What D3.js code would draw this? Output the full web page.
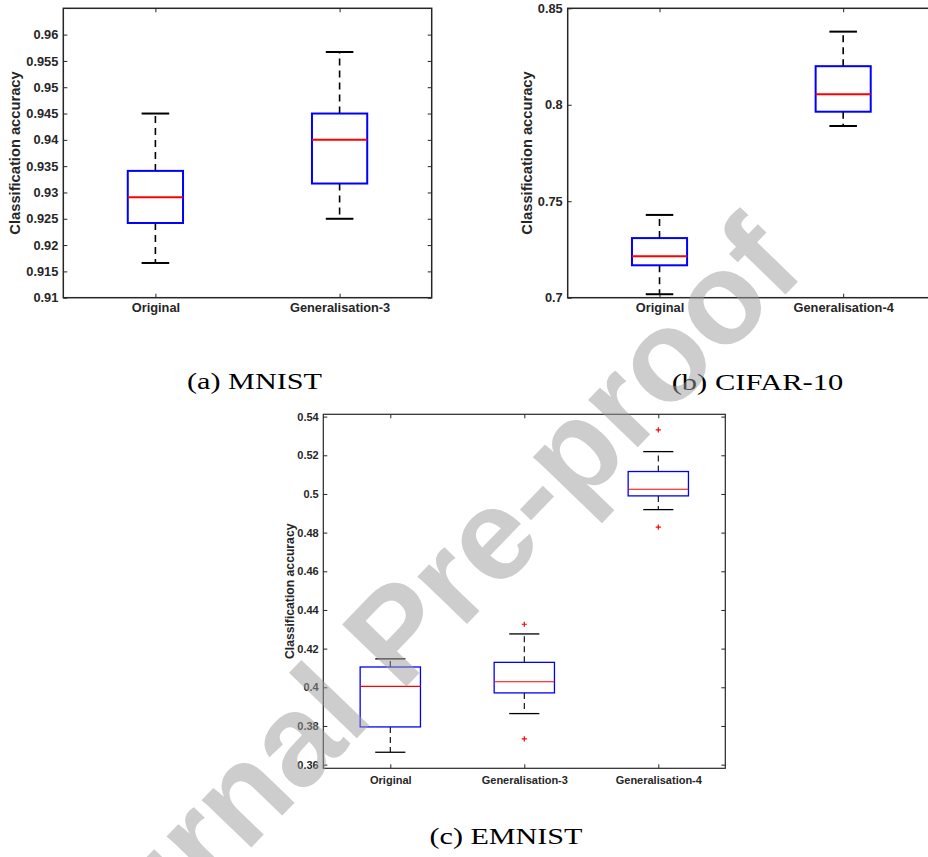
<!DOCTYPE html>
<html>
<head>
<meta charset="utf-8">
<script src="https://cdn.jsdelivr.net/npm/d3@7"></script>
<style>
  body { margin: 0; background: #fff; }
  svg { display: block; }
</style>
</head>
<body>
<svg id="fig" width="928" height="857"></svg>
<script>
// ---- (a) MNIST ----
const mnistCategories = ["Original", "Generalisation-3"];
const mnistLowerWhisker = [0.9166, 0.9250];
const mnistQ1 = [0.9242, 0.9317];
const mnistMedian = [0.9291, 0.9400];
const mnistQ3 = [0.9341, 0.9450];
const mnistUpperWhisker = [0.9450, 0.9567];
const mnistOutliers = [[], []];
const mnistTicks = [0.91, 0.915, 0.92, 0.925, 0.93, 0.935, 0.94, 0.945, 0.95, 0.955, 0.96];

// ---- (b) CIFAR-10 ----
const cifarCategories = ["Original", "Generalisation-4"];
const cifarLowerWhisker = [0.7018, 0.7890];
const cifarQ1 = [0.7168, 0.7964];
const cifarMedian = [0.7215, 0.8054];
const cifarQ3 = [0.7309, 0.8200];
const cifarUpperWhisker = [0.7429, 0.8379];
const cifarOutliers = [[], []];
const cifarTicks = [0.7, 0.75, 0.8, 0.85];

// ---- (c) EMNIST ----
const emnistCategories = ["Original", "Generalisation-3", "Generalisation-4"];
const emnistLowerWhisker = [0.3664, 0.3864, 0.4919];
const emnistQ1 = [0.3795, 0.3971, 0.4990];
const emnistMedian = [0.4005, 0.4029, 0.5024];
const emnistQ3 = [0.4105, 0.4129, 0.5116];
const emnistUpperWhisker = [0.4147, 0.4276, 0.5219];
const emnistOutliers = [[], [0.4326, 0.3733], [0.5331, 0.4828]];
const emnistTicks = [0.36, 0.38, 0.4, 0.42, 0.44, 0.46, 0.48, 0.5, 0.52, 0.54];

const yTitle = "Classification accuracy";
const captions = ["(a) MNIST", "(b) CIFAR-10", "(c) EMNIST"];
const watermark = "Journal Pre-proof";

const SANS = "'Liberation Sans', Arial, Helvetica, sans-serif";
const SERIF = "'Liberation Serif', 'Times New Roman', serif";
const AXIS_COLOR = "#262626";
const fmt = d3.format(".3~f");

const svg = d3.select("#fig");
svg.append("rect").attr("width", 928).attr("height", 857).attr("fill", "#fff");

function styleAxis(sel, fontSize) {
  sel.select(".domain").remove();
  sel.attr("font-family", SANS).attr("font-size", fontSize).attr("font-weight", "bold");
  sel.selectAll(".tick line").attr("stroke", AXIS_COLOR).attr("stroke-width", 1);
  sel.selectAll(".tick text").attr("fill", AXIS_COLOR);
}

function drawPanel(p) {
  const x = d3.scalePoint().domain(p.categories).range([p.left, p.right]).padding(0.5);
  const y = d3.scaleLinear().domain(p.domain).range([p.bottom, p.top]);
  const step = x.step();
  const boxW = p.boxFrac * step;
  const capW = boxW / 2;
  const g = svg.append("g");

  // inward ticks on all four sides
  g.append("g").attr("transform", `translate(${p.left},0)`)
    .call(d3.axisLeft(y).tickValues(p.ticks).tickFormat(fmt)
      .tickSizeInner(-4).tickSizeOuter(0).tickPadding(p.yPad))
    .call(s => styleAxis(s, p.tickFont));
  g.append("g").attr("transform", `translate(${p.right},0)`)
    .call(d3.axisRight(y).tickValues(p.ticks).tickFormat("")
      .tickSizeInner(-4).tickSizeOuter(0))
    .call(s => styleAxis(s, p.tickFont));
  g.append("g").attr("transform", `translate(0,${p.bottom})`)
    .call(d3.axisBottom(x).tickSizeInner(-4).tickSizeOuter(0).tickPadding(p.xPad))
    .call(s => styleAxis(s, p.tickFont));
  g.append("g").attr("transform", `translate(0,${p.top})`)
    .call(d3.axisTop(x).tickFormat("").tickSizeInner(-4).tickSizeOuter(0))
    .call(s => styleAxis(s, p.tickFont));

  // axes frame
  g.append("rect")
    .attr("x", p.left).attr("y", p.top)
    .attr("width", p.right - p.left).attr("height", p.bottom - p.top)
    .attr("fill", "none").attr("stroke", AXIS_COLOR).attr("stroke-width", p.frameW);

  // y title
  g.append("text")
    .attr("transform", `translate(${p.titleX},${(p.top + p.bottom) / 2}) rotate(-90)`)
    .attr("text-anchor", "middle")
    .attr("font-family", SANS).attr("font-weight", "bold")
    .attr("font-size", p.titleFont).attr("fill", AXIS_COLOR)
    .text(yTitle);

  const boxes = g.append("g");
  p.categories.forEach((c, i) => {
    const cx = x(c);
    // dashed whiskers
    [[p.q3[i], p.upper[i]], [p.q1[i], p.lower[i]]].forEach(([a, b]) => {
      boxes.append("line")
        .attr("x1", cx).attr("x2", cx).attr("y1", y(a)).attr("y2", y(b))
        .attr("stroke", "#000").attr("stroke-width", p.whiskerW)
        .attr("stroke-dasharray", p.dash);
    });
    // whisker caps
    [p.upper[i], p.lower[i]].forEach(v => {
      boxes.append("line")
        .attr("x1", cx - capW / 2).attr("x2", cx + capW / 2)
        .attr("y1", y(v)).attr("y2", y(v))
        .attr("stroke", "#000").attr("stroke-width", p.capW);
    });
    // box
    boxes.append("rect")
      .attr("x", cx - boxW / 2).attr("y", y(p.q3[i]))
      .attr("width", boxW).attr("height", y(p.q1[i]) - y(p.q3[i]))
      .attr("fill", "none").attr("stroke", "#0000ff").attr("stroke-width", p.boxStroke);
    // median
    boxes.append("line")
      .attr("x1", cx - boxW / 2).attr("x2", cx + boxW / 2)
      .attr("y1", y(p.median[i])).attr("y2", y(p.median[i]))
      .attr("stroke", "#ff0000").attr("stroke-width", p.medianW);
    // outliers as red plus markers
    p.outliers[i].forEach(v => {
      const oy = y(v), r = 2.6;
      boxes.append("path")
        .attr("d", `M${cx - r},${oy}H${cx + r}M${cx},${oy - r}V${oy + r}`)
        .attr("stroke", "#ff0000").attr("stroke-width", 1.2).attr("fill", "none");
    });
  });
}

drawPanel({
  categories: mnistCategories, lower: mnistLowerWhisker, q1: mnistQ1, median: mnistMedian,
  q3: mnistQ3, upper: mnistUpperWhisker, outliers: mnistOutliers, ticks: mnistTicks,
  domain: [0.91, 0.965], left: 63.3, right: 431.7, top: 8.3, bottom: 297.7,
  boxFrac: 0.3, tickFont: 12.8, titleFont: 14.7, titleX: 20, yPad: 5, xPad: 5.6,
  frameW: 1.5, boxStroke: 2, medianW: 2, whiskerW: 1.6, capW: 2, dash: "7,5"
});

drawPanel({
  categories: cifarCategories, lower: cifarLowerWhisker, q1: cifarQ1, median: cifarMedian,
  q3: cifarQ3, upper: cifarUpperWhisker, outliers: cifarOutliers, ticks: cifarTicks,
  domain: [0.7, 0.85], left: 567.7, right: 935, top: 8.3, bottom: 297.7,
  boxFrac: 0.3, tickFont: 12.8, titleFont: 14.7, titleX: 531.7, yPad: 5, xPad: 5.6,
  frameW: 1.5, boxStroke: 2, medianW: 2, whiskerW: 1.6, capW: 2, dash: "7,5"
});

drawPanel({
  categories: emnistCategories, lower: emnistLowerWhisker, q1: emnistQ1, median: emnistMedian,
  q3: emnistQ3, upper: emnistUpperWhisker, outliers: emnistOutliers, ticks: emnistTicks,
  domain: [0.3581, 0.5412], left: 323.3, right: 725.3, top: 414.3, bottom: 768.3,
  boxFrac: 0.45, tickFont: 11, titleFont: 12.2, titleX: 294, yPad: 4.6, xPad: 8,
  frameW: 1.2, boxStroke: 1.3, medianW: 1.1, whiskerW: 1.1, capW: 1.3, dash: "6,4"
});

// sub-figure captions
const captionLayout = [
  { x: 187, y: 388.5, w: 135 },
  { x: 671.7, y: 389.5, w: 171.6 },
  { x: 429.5, y: 844, w: 153 }
];
captions.forEach((t, i) => {
  const c = captionLayout[i];
  svg.append("text")
    .attr("x", c.x).attr("y", c.y)
    .attr("textLength", c.w).attr("lengthAdjust", "spacingAndGlyphs")
    .attr("font-family", SERIF).attr("font-size", 23.5).attr("fill", "#000")
    .text(t);
});

// diagonal status stamp across the page
svg.append("text")
  .attr("transform", "translate(807,272) rotate(-46)")
  .attr("text-anchor", "end")
  .attr("font-family", SANS).attr("font-size", 130).attr("font-weight", "bold")
  .attr("fill", "#9b9b9b").attr("fill-opacity", 0.5)
  .text(watermark);
</script>
</body>
</html>
